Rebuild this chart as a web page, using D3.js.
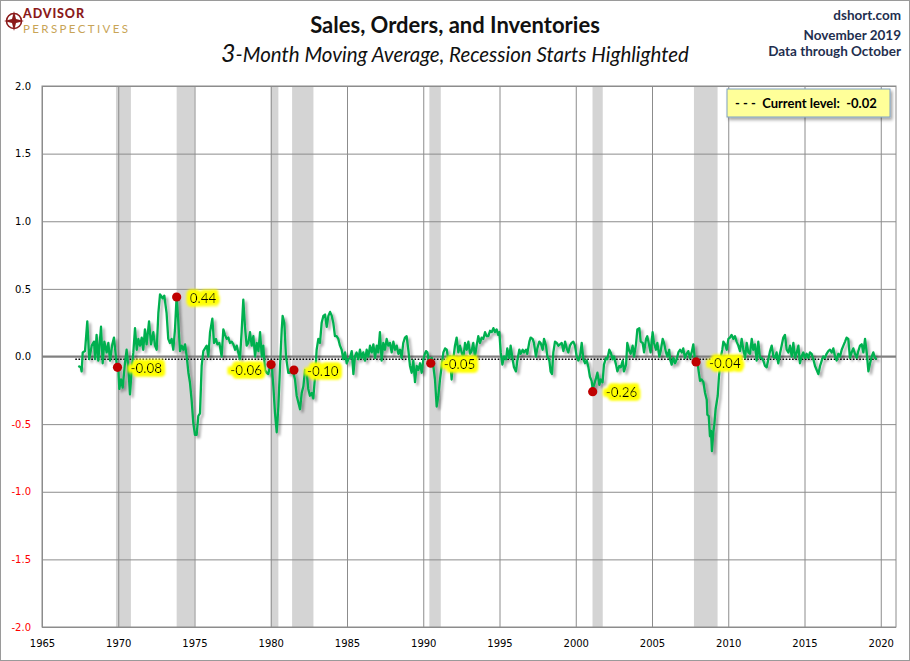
<!DOCTYPE html>
<html>
<head>
<meta charset="utf-8">
<script src="https://cdn.jsdelivr.net/npm/d3@7"></script>
<style>
  body { margin: 0; background: #fff; }
  svg text { font-family: Lato, "Open Sans", sans-serif; }
</style>
</head>
<body>
<div id="chart"></div>
<script>
// DATA
const tickYears = [1965, 1970, 1975, 1980, 1985, 1990, 1995, 2000, 2005, 2010, 2015, 2020];
const tickValues = [-2, -1.5, -1, -0.5, 0, 0.5, 1, 1.5, 2];
const recessions = [
  [1969.85, 1970.83], [1973.83, 1975.0], [1980.0, 1980.5], [1981.4, 1982.8],
  [1990.4, 1991.15], [2001.1, 2001.77], [2007.75, 2009.3]
];
const recessionStarts = [1969.95, 1973.83, 1980.02, 1981.52, 1990.49, 2001.11, 2007.89];
const startValues = [-0.08, 0.44, -0.06, -0.10, -0.05, -0.26, -0.04];
const currentLevel = -0.02;

// 3-month moving average, [decimal year, value]
const ma3 = [
  [1967.38,-0.07],[1967.54,-0.08],[1967.60,-0.11],[1967.67,0.03],[1967.82,0.04],[1967.97,0.26],
  [1968.10,-0.02],[1968.26,0.08],[1968.41,0.11],[1968.48,-0.02],[1968.58,0.16],[1968.69,-0.03],
  [1968.87,0.22],[1968.98,-0.05],[1969.09,0.11],[1969.24,0.03],[1969.35,0.10],[1969.46,-0.03],
  [1969.61,0.09],[1969.72,0.14],[1969.90,-0.06],[1970.01,-0.10],[1970.07,-0.24],[1970.18,-0.17],
  [1970.29,-0.23],[1970.44,-0.05],[1970.55,0.05],[1970.66,-0.08],[1970.77,-0.28],[1970.88,-0.10],
  [1970.99,0.03],[1971.10,0.21],[1971.21,0.05],[1971.32,0.13],[1971.43,0.08],[1971.54,0.14],
  [1971.64,0.05],[1971.75,0.20],[1971.86,0.09],[1972.02,0.26],[1972.15,0.09],[1972.30,0.18],
  [1972.41,0.08],[1972.52,0.05],[1972.63,0.32],[1972.74,0.46],[1972.91,0.43],[1973.02,0.45],
  [1973.17,0.32],[1973.28,0.13],[1973.39,0.10],[1973.50,0.13],[1973.61,0.05],[1973.72,0.20],
  [1973.83,0.45],[1973.94,0.25],[1974.05,0.04],[1974.16,0.08],[1974.27,0.05],[1974.38,0.09],
  [1974.49,0.00],[1974.60,-0.12],[1974.70,-0.19],[1974.81,-0.32],[1974.92,-0.49],[1975.03,-0.58],
  [1975.14,-0.58],[1975.25,-0.44],[1975.36,-0.42],[1975.47,-0.07],[1975.58,0.04],[1975.80,0.08],
  [1975.91,0.00],[1976.02,0.18],[1976.17,0.28],[1976.28,0.10],[1976.41,0.13],[1976.50,0.09],
  [1976.63,0.10],[1976.78,0.00],[1976.89,0.20],[1977.00,0.16],[1977.11,0.13],[1977.22,0.14],
  [1977.33,0.10],[1977.44,0.11],[1977.55,0.09],[1977.66,0.05],[1977.77,0.08],[1977.87,0.03],
  [1977.98,-0.02],[1978.09,0.18],[1978.20,0.42],[1978.31,0.22],[1978.42,0.08],[1978.53,0.10],
  [1978.64,0.18],[1978.75,0.08],[1978.86,0.15],[1978.97,0.00],[1979.08,0.10],[1979.19,0.04],
  [1979.30,0.18],[1979.41,0.00],[1979.51,0.08],[1979.62,-0.10],[1979.73,-0.12],[1979.84,-0.13],
  [1979.95,-0.07],[1980.06,-0.05],[1980.17,-0.22],[1980.28,-0.42],[1980.39,-0.56],[1980.50,-0.37],
  [1980.61,-0.07],[1980.72,0.20],[1980.78,0.30],[1980.89,0.25],[1981.00,0.00],[1981.15,-0.12],
  [1981.26,-0.12],[1981.37,-0.10],[1981.48,-0.12],[1981.59,-0.17],[1981.70,-0.29],[1981.81,-0.34],
  [1981.92,-0.39],[1982.03,-0.27],[1982.14,-0.22],[1982.25,-0.10],[1982.36,-0.12],[1982.46,-0.24],
  [1982.57,-0.29],[1982.68,-0.27],[1982.79,-0.31],[1982.90,-0.15],[1983.01,0.05],[1983.12,0.13],
  [1983.23,0.10],[1983.34,0.25],[1983.45,0.30],[1983.56,0.31],[1983.67,0.22],[1983.78,0.30],
  [1983.89,0.33],[1984.00,0.30],[1984.10,0.25],[1984.21,0.15],[1984.32,0.15],[1984.43,0.13],
  [1984.54,0.08],[1984.65,0.05],[1984.76,-0.02],[1984.87,0.03],[1984.98,-0.05],[1985.09,-0.02],
  [1985.20,-0.01],[1985.31,0.04],[1985.42,-0.13],[1985.52,0.00],[1985.63,0.03],[1985.74,-0.02],
  [1985.85,0.05],[1985.96,-0.01],[1986.07,0.03],[1986.18,-0.03],[1986.29,0.05],[1986.40,0.00],
  [1986.51,0.08],[1986.62,0.03],[1986.73,0.09],[1986.84,-0.01],[1986.95,0.08],[1987.05,0.03],
  [1987.16,0.18],[1987.27,-0.03],[1987.38,0.10],[1987.49,0.05],[1987.60,0.13],[1987.71,0.08],
  [1987.82,0.10],[1987.93,0.03],[1988.04,0.11],[1988.15,0.05],[1988.26,0.08],[1988.37,0.02],
  [1988.48,0.05],[1988.58,-0.01],[1988.69,0.10],[1988.80,0.14],[1988.91,0.15],[1989.02,0.05],
  [1989.13,-0.07],[1989.24,-0.12],[1989.35,-0.03],[1989.46,-0.19],[1989.57,-0.07],[1989.68,-0.10],
  [1989.79,-0.05],[1989.90,-0.12],[1990.01,-0.02],[1990.11,0.02],[1990.18,0.04],[1990.27,0.03],
  [1990.40,-0.05],[1990.55,-0.01],[1990.66,-0.07],[1990.77,-0.17],[1990.88,-0.37],[1990.99,-0.29],
  [1991.10,-0.17],[1991.21,-0.07],[1991.32,0.03],[1991.43,0.06],[1991.54,0.05],[1991.64,-0.02],
  [1991.75,0.00],[1991.86,-0.17],[1991.97,-0.02],[1992.08,0.08],[1992.19,0.14],[1992.30,0.03],
  [1992.41,0.08],[1992.52,0.03],[1992.63,-0.01],[1992.74,0.10],[1992.85,0.05],[1992.96,0.11],
  [1993.07,0.02],[1993.17,0.04],[1993.28,0.10],[1993.39,0.00],[1993.50,0.08],[1993.61,0.15],
  [1993.72,0.10],[1993.83,0.14],[1993.94,0.13],[1994.05,0.18],[1994.16,0.15],[1994.27,0.15],
  [1994.38,0.19],[1994.49,0.18],[1994.60,0.21],[1994.70,0.18],[1994.81,0.20],[1994.92,0.16],
  [1994.99,0.18],[1995.08,0.03],[1995.19,-0.06],[1995.30,0.00],[1995.43,-0.02],[1995.51,0.06],
  [1995.64,-0.01],[1995.73,0.08],[1995.86,-0.02],[1995.95,-0.08],[1996.08,-0.11],[1996.17,-0.03],
  [1996.30,0.05],[1996.39,0.02],[1996.52,0.05],[1996.61,0.03],[1996.74,0.05],[1996.82,0.02],
  [1996.96,0.11],[1997.04,0.14],[1997.17,0.13],[1997.26,0.10],[1997.39,0.00],[1997.48,0.06],
  [1997.61,0.11],[1997.70,0.10],[1997.83,0.05],[1997.92,0.13],[1998.05,0.08],[1998.14,0.00],
  [1998.27,-0.03],[1998.35,-0.11],[1998.44,-0.13],[1998.53,0.03],[1998.64,0.11],[1998.75,0.10],
  [1998.86,0.08],[1998.97,0.09],[1999.08,0.10],[1999.19,0.04],[1999.30,0.11],[1999.41,0.06],
  [1999.51,0.03],[1999.62,0.08],[1999.73,0.10],[1999.84,0.11],[1999.95,0.08],[2000.06,0.00],
  [2000.17,-0.03],[2000.28,0.00],[2000.39,0.10],[2000.50,-0.02],[2000.61,-0.05],[2000.72,-0.03],
  [2000.83,-0.08],[2000.93,-0.15],[2001.04,-0.18],[2001.11,-0.24],[2001.20,-0.21],[2001.33,-0.16],
  [2001.42,-0.12],[2001.55,-0.21],[2001.63,-0.17],[2001.76,-0.19],[2001.85,-0.06],[2001.98,-0.01],
  [2002.07,-0.02],[2002.20,0.05],[2002.29,0.03],[2002.42,-0.02],[2002.51,0.00],[2002.64,-0.06],
  [2002.73,-0.11],[2002.86,-0.07],[2002.95,-0.08],[2003.08,-0.03],[2003.16,-0.11],[2003.30,-0.06],
  [2003.38,0.10],[2003.51,0.04],[2003.60,0.02],[2003.73,0.08],[2003.82,0.00],[2003.95,0.09],
  [2004.04,0.20],[2004.17,0.21],[2004.26,0.11],[2004.39,0.10],[2004.48,0.03],[2004.61,0.13],
  [2004.69,0.15],[2004.82,0.08],[2004.91,0.03],[2005.04,0.18],[2005.13,0.10],[2005.26,0.05],
  [2005.35,0.10],[2005.48,0.00],[2005.57,0.04],[2005.70,0.13],[2005.79,0.10],[2005.92,0.03],
  [2006.00,0.00],[2006.13,0.05],[2006.18,-0.02],[2006.29,-0.06],[2006.40,-0.01],[2006.51,-0.05],
  [2006.62,-0.02],[2006.73,0.03],[2006.84,0.05],[2006.95,0.03],[2007.05,0.06],[2007.16,-0.01],
  [2007.27,0.02],[2007.38,0.04],[2007.49,-0.01],[2007.60,0.03],[2007.71,0.09],[2007.82,-0.03],
  [2007.97,-0.03],[2008.06,-0.11],[2008.15,-0.18],[2008.26,-0.17],[2008.37,-0.19],[2008.48,-0.27],
  [2008.59,-0.32],[2008.63,-0.43],[2008.72,-0.44],[2008.80,-0.59],[2008.87,-0.55],[2008.93,-0.70],
  [2009.02,-0.56],[2009.09,-0.50],[2009.17,-0.39],[2009.24,-0.34],[2009.31,-0.29],[2009.39,-0.15],
  [2009.46,-0.07],[2009.52,0.00],[2009.61,0.05],[2009.68,0.11],[2009.79,0.09],[2009.90,0.05],
  [2010.01,0.13],[2010.11,0.14],[2010.22,0.16],[2010.33,0.13],[2010.44,0.15],[2010.55,0.11],
  [2010.66,0.08],[2010.77,0.04],[2010.88,0.13],[2010.99,0.05],[2011.10,-0.01],[2011.21,0.10],
  [2011.32,0.03],[2011.43,0.02],[2011.54,0.13],[2011.64,0.05],[2011.75,0.09],[2011.86,-0.03],
  [2011.97,0.11],[2012.08,-0.01],[2012.19,-0.01],[2012.30,-0.03],[2012.41,-0.07],[2012.52,-0.08],
  [2012.63,-0.02],[2012.74,0.04],[2012.85,0.08],[2012.96,0.00],[2013.07,-0.01],[2013.17,0.03],
  [2013.28,-0.05],[2013.39,0.02],[2013.50,0.08],[2013.61,0.14],[2013.72,0.16],[2013.83,0.05],
  [2013.94,0.03],[2014.05,0.08],[2014.16,0.00],[2014.27,0.10],[2014.38,-0.01],[2014.49,0.03],
  [2014.60,0.08],[2014.70,-0.05],[2014.81,0.00],[2014.92,0.03],[2015.03,-0.01],[2015.14,0.02],
  [2015.25,-0.01],[2015.36,0.03],[2015.47,0.02],[2015.58,-0.02],[2015.69,-0.07],[2015.80,-0.10],
  [2015.91,-0.13],[2016.02,-0.07],[2016.13,-0.03],[2016.23,0.00],[2016.34,-0.01],[2016.45,0.02],
  [2016.56,0.04],[2016.67,0.05],[2016.78,0.03],[2016.89,0.06],[2017.00,0.00],[2017.11,-0.03],
  [2017.22,0.02],[2017.33,0.00],[2017.44,0.05],[2017.55,0.08],[2017.66,0.11],[2017.76,0.14],
  [2017.87,0.13],[2017.98,-0.01],[2018.09,0.03],[2018.20,0.06],[2018.31,0.02],[2018.42,-0.01],
  [2018.53,0.04],[2018.64,0.08],[2018.75,0.09],[2018.86,0.03],[2018.97,0.13],[2019.08,0.03],
  [2019.19,-0.11],[2019.30,-0.05],[2019.41,0.00],[2019.51,0.03],[2019.62,-0.01],[2019.73,-0.02]
];

// MARGIN CONVENTIONS
const margin = { top: 86, right: 14, bottom: 34, left: 42 };
const outerWidth = 910;
const outerHeight = 661;
const width = outerWidth - margin.left - margin.right;
const height = outerHeight - margin.top - margin.bottom;

const svg = d3.select("#chart").append("svg")
  .attr("width", outerWidth)
  .attr("height", outerHeight);

// filters: line shadow, label glow, box shadow
const defs = svg.append("defs");
const lineShadow = defs.append("filter").attr("id", "lineShadow")
  .attr("x", "-5%").attr("y", "-20%").attr("width", "110%").attr("height", "140%");
lineShadow.append("feDropShadow")
  .attr("dx", 2.5).attr("dy", 2.5).attr("stdDeviation", 1.3)
  .attr("flood-color", "#000").attr("flood-opacity", 0.33);

const glow = defs.append("filter").attr("id", "glow")
  .attr("x", "-30%").attr("y", "-60%").attr("width", "160%").attr("height", "220%");
glow.append("feMorphology").attr("in", "SourceAlpha").attr("operator", "dilate").attr("radius", 2.5).attr("result", "dil");
glow.append("feGaussianBlur").attr("in", "dil").attr("stdDeviation", 1.6).attr("result", "blur");
glow.append("feFlood").attr("flood-color", "#ffff00").attr("result", "yel");
glow.append("feComposite").attr("in", "yel").attr("in2", "blur").attr("operator", "in").attr("result", "halo");
const gm = glow.append("feMerge");
gm.append("feMergeNode").attr("in", "halo");
gm.append("feMergeNode").attr("in", "halo");
gm.append("feMergeNode").attr("in", "SourceGraphic");

const boxShadow = defs.append("filter").attr("id", "boxShadow")
  .attr("x", "-10%").attr("y", "-30%").attr("width", "130%").attr("height", "180%");
boxShadow.append("feDropShadow")
  .attr("dx", 2).attr("dy", 2.5).attr("stdDeviation", 1.8)
  .attr("flood-color", "#000").attr("flood-opacity", 0.35);

// outer frame
svg.append("rect")
  .attr("x", 0.5).attr("y", 0.5)
  .attr("width", outerWidth - 1).attr("height", outerHeight - 1)
  .attr("fill", "#fff").attr("stroke", "#9a9a9a");

// header
const logo = svg.append("g").attr("transform", "translate(14,21)");
logo.append("circle").attr("r", 7.5).attr("fill", "none").attr("stroke", "#8b1a1a").attr("stroke-width", 1.6);
logo.append("path")
  .attr("d", "M0,-10 L2,-2 L10,0 L2,2 L0,10 L-2,2 L-10,0 L-2,-2 Z")
  .attr("fill", "#8b1a1a");
svg.append("text").attr("x", 23).attr("y", 18)
  .style("font-size", "12.5px").style("font-weight", "900").attr("fill", "#8b1a1a")
  .attr("textLength", 61).text("ADVISOR");
svg.append("text").attr("x", 23).attr("y", 32.5)
  .style("font-size", "11.5px").attr("fill", "#c8a456")
  .attr("textLength", 105).text("PERSPECTIVES");

svg.append("text")
  .attr("x", 455).attr("y", 33)
  .attr("text-anchor", "middle")
  .style("font-size", "22px").style("font-weight", "bold")
  .attr("fill", "#111")
  .text("Sales, Orders, and Inventories");

const sub = svg.append("text")
  .attr("x", 455).attr("y", 62)
  .attr("text-anchor", "middle")
  .style("font-size", "20.5px").style("font-style", "italic")
  .attr("fill", "#111");
sub.append("tspan").style("font-size", "25px").text("3");
sub.append("tspan").text("-Month Moving Average, Recession Starts Highlighted");

const rightLines = ["dshort.com", "November 2019", "Data through October"];
const rightY = [20, 40, 56];
svg.selectAll(".hdr").data(rightLines).enter().append("text")
  .attr("class", "hdr")
  .attr("x", 901).attr("y", (d, i) => rightY[i])
  .attr("text-anchor", "end")
  .style("font-size", "13.5px").style("font-weight", "bold")
  .attr("fill", "#1f2f4f")
  .text(d => d);

const g = svg.append("g")
  .attr("transform", `translate(${margin.left}, ${margin.top})`);

const x = d3.scaleLinear().domain([1965, 2021]).range([0, width]);
const y = d3.scaleLinear().domain([-2, 2]).range([height, 0]);

// recession bands
g.selectAll(".band").data(recessions).enter().append("rect")
  .attr("class", "band")
  .attr("x", d => x(d[0]))
  .attr("y", 0)
  .attr("width", d => x(d[1]) - x(d[0]))
  .attr("height", height)
  .attr("fill", "#d4d4d4");

// grid + axes
const xAxis = g.append("g")
  .attr("transform", `translate(0, ${height})`)
  .call(d3.axisBottom(x).tickValues(tickYears).tickFormat(d3.format("d")).tickSize(-height).tickPadding(13));
xAxis.select(".domain").remove();
xAxis.selectAll("line").attr("stroke", "#8c8c8c");
xAxis.selectAll("text")
  .style("font-family", "'DejaVu Sans', sans-serif").style("font-size", "10px").attr("fill", "#000");

const yAxis = g.append("g")
  .call(d3.axisLeft(y).tickValues(tickValues).tickFormat(d => d.toFixed(1)).tickSize(-width).tickPadding(11));
yAxis.select(".domain").remove();
yAxis.selectAll("line").attr("stroke", "#8c8c8c");
yAxis.selectAll("text")
  .style("font-family", "'DejaVu Sans', sans-serif").style("font-size", "10px")
  .attr("fill", d => d < 0 ? "#ff0000" : "#000");

// plot frame
g.append("rect")
  .attr("width", width).attr("height", height)
  .attr("fill", "none").attr("stroke", "#8c8c8c");

// zero line
g.append("line")
  .attr("x1", 0).attr("x2", width)
  .attr("y1", y(0)).attr("y2", y(0))
  .attr("stroke", "#808080").attr("stroke-width", 2);

// current level dotted line
const xExtent = d3.extent(ma3, d => d[0]);
g.append("line")
  .attr("x1", x(xExtent[0]) - 3).attr("x2", x(xExtent[1]))
  .attr("y1", y(currentLevel)).attr("y2", y(currentLevel))
  .attr("stroke", "#000").attr("stroke-width", 1.6)
  .attr("stroke-dasharray", "1.6,1.6");

// series line
const line = d3.line().x(d => x(d[0])).y(d => y(d[1]));
g.append("path")
  .datum(ma3)
  .attr("d", line)
  .attr("fill", "none")
  .attr("stroke", "#00b050")
  .attr("stroke-width", 2.3)
  .attr("stroke-linejoin", "round")
  .attr("filter", "url(#lineShadow)");

// recession start markers
const starts = recessionStarts.map((yr, i) => ({ yr, v: startValues[i] }));
g.selectAll(".dot").data(starts).enter().append("circle")
  .attr("class", "dot")
  .attr("cx", d => x(d.yr))
  .attr("cy", d => y(d.v))
  .attr("r", 4.6)
  .attr("fill", "#c00000");

// labels (one sits to the left of its marker)
const leftLabel = 2;
g.selectAll(".lbl").data(starts).enter().append("text")
  .attr("class", "lbl")
  .attr("x", (d, i) => i === leftLabel ? x(d.yr) - 9 : x(d.yr) + 13)
  .attr("y", (d, i) => y(d.v) + (i === leftLabel ? 6 : 1))
  .attr("dy", "0.35em")
  .attr("text-anchor", (d, i) => i === leftLabel ? "end" : "start")
  .style("font-size", "13.5px")
  .attr("fill", "#000")
  .attr("filter", "url(#glow)")
  .text(d => d.v.toFixed(2));

// legend box
const legend = svg.append("g").attr("transform", "translate(727, 89)");
legend.append("rect")
  .attr("width", 163).attr("height", 28)
  .attr("fill", "#ffff99")
  .attr("stroke", "#7f9fc0")
  .attr("filter", "url(#boxShadow)");
legend.append("text")
  .attr("x", 8).attr("y", 19)
  .style("font-size", "13px").style("font-weight", "bold")
  .style("white-space", "pre")
  .attr("fill", "#000")
  .text(`- - -  Current level:  ${currentLevel.toFixed(2)}`);
</script>
</body>
</html>
